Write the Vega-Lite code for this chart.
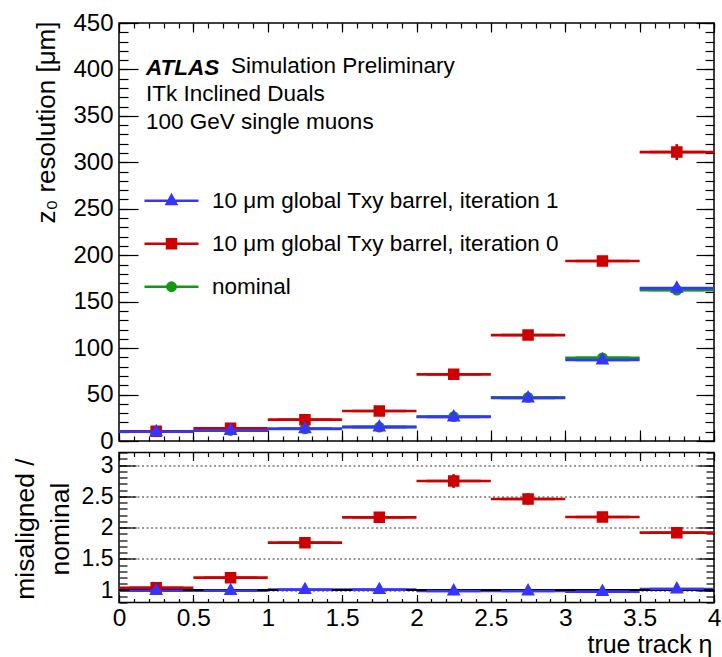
{
  "$schema": "https://vega.github.io/schema/vega-lite/v6.json",
  "background": "white",
  "padding": {"left": 11, "top": 10, "right": 1, "bottom": 0},
  "config": {
    "font": "Liberation Sans",
    "view": {"stroke": "black", "strokeWidth": 1.5},
    "axis": {"domain": false, "grid": false, "tickColor": "black", "tickWidth": 1.2, "labelColor": "black", "titleColor": "black", "titleFontWeight": "normal", "labelFont": "Liberation Sans", "titleFont": "Liberation Sans", "labelOverlap": false, "labelFlush": false, "labelBound": false},
    "legend": {"labelFont": "Liberation Sans"}
  },
  "datasets": {
    "res": [
      {"s": "nominal", "eta": 0.25, "lo": 0, "hi": 0.5, "val": 10.1, "elo": 9.9, "ehi": 10.3},
      {"s": "nominal", "eta": 0.75, "lo": 0.5, "hi": 1, "val": 11.3, "elo": 11.1, "ehi": 11.5},
      {"s": "nominal", "eta": 1.25, "lo": 1, "hi": 1.5, "val": 13.1, "elo": 12.8, "ehi": 13.4},
      {"s": "nominal", "eta": 1.75, "lo": 1.5, "hi": 2, "val": 15.0, "elo": 14.6, "ehi": 15.4},
      {"s": "nominal", "eta": 2.25, "lo": 2, "hi": 2.5, "val": 26.3, "elo": 25.7, "ehi": 26.9},
      {"s": "nominal", "eta": 2.75, "lo": 2.5, "hi": 3, "val": 47.0, "elo": 46.0, "ehi": 48.0},
      {"s": "nominal", "eta": 3.25, "lo": 3, "hi": 3.5, "val": 89.5, "elo": 87.8, "ehi": 91.2},
      {"s": "nominal", "eta": 3.75, "lo": 3.5, "hi": 4, "val": 162.5, "elo": 159.5, "ehi": 165.5},
      {"s": "10 μm global Txy barrel, iteration 0", "eta": 0.25, "lo": 0, "hi": 0.5, "val": 10.4, "elo": 10.1, "ehi": 10.7},
      {"s": "10 μm global Txy barrel, iteration 0", "eta": 0.75, "lo": 0.5, "hi": 1, "val": 13.6, "elo": 13.2, "ehi": 14.0},
      {"s": "10 μm global Txy barrel, iteration 0", "eta": 1.25, "lo": 1, "hi": 1.5, "val": 23.0, "elo": 22.4, "ehi": 23.6},
      {"s": "10 μm global Txy barrel, iteration 0", "eta": 1.75, "lo": 1.5, "hi": 2, "val": 32.3, "elo": 31.5, "ehi": 33.1},
      {"s": "10 μm global Txy barrel, iteration 0", "eta": 2.25, "lo": 2, "hi": 2.5, "val": 71.8, "elo": 70.0, "ehi": 73.6},
      {"s": "10 μm global Txy barrel, iteration 0", "eta": 2.75, "lo": 2.5, "hi": 3, "val": 114.0, "elo": 111.2, "ehi": 116.8},
      {"s": "10 μm global Txy barrel, iteration 0", "eta": 3.25, "lo": 3, "hi": 3.5, "val": 193.8, "elo": 189.3, "ehi": 198.3},
      {"s": "10 μm global Txy barrel, iteration 0", "eta": 3.75, "lo": 3.5, "hi": 4, "val": 311.0, "elo": 302.4, "ehi": 319.6},
      {"s": "10 μm global Txy barrel, iteration 1", "eta": 0.25, "lo": 0, "hi": 0.5, "val": 10.0, "elo": 9.8, "ehi": 10.2},
      {"s": "10 μm global Txy barrel, iteration 1", "eta": 0.75, "lo": 0.5, "hi": 1, "val": 11.2, "elo": 11.0, "ehi": 11.4},
      {"s": "10 μm global Txy barrel, iteration 1", "eta": 1.25, "lo": 1, "hi": 1.5, "val": 13.2, "elo": 12.9, "ehi": 13.5},
      {"s": "10 μm global Txy barrel, iteration 1", "eta": 1.75, "lo": 1.5, "hi": 2, "val": 15.1, "elo": 14.7, "ehi": 15.5},
      {"s": "10 μm global Txy barrel, iteration 1", "eta": 2.25, "lo": 2, "hi": 2.5, "val": 25.9, "elo": 25.3, "ehi": 26.5},
      {"s": "10 μm global Txy barrel, iteration 1", "eta": 2.75, "lo": 2.5, "hi": 3, "val": 46.3, "elo": 45.3, "ehi": 47.3},
      {"s": "10 μm global Txy barrel, iteration 1", "eta": 3.25, "lo": 3, "hi": 3.5, "val": 87.3, "elo": 85.6, "ehi": 89.0},
      {"s": "10 μm global Txy barrel, iteration 1", "eta": 3.75, "lo": 3.5, "hi": 4, "val": 164.5, "elo": 161.5, "ehi": 167.5}
    ],
    "ratio": [
      {"s": "10 μm global Txy barrel, iteration 0", "eta": 0.25, "lo": 0, "hi": 0.5, "val": 1.035, "elo": 1.005, "ehi": 1.065},
      {"s": "10 μm global Txy barrel, iteration 0", "eta": 0.75, "lo": 0.5, "hi": 1, "val": 1.197, "elo": 1.157, "ehi": 1.237},
      {"s": "10 μm global Txy barrel, iteration 0", "eta": 1.25, "lo": 1, "hi": 1.5, "val": 1.757, "elo": 1.697, "ehi": 1.817},
      {"s": "10 μm global Txy barrel, iteration 0", "eta": 1.75, "lo": 1.5, "hi": 2, "val": 2.163, "elo": 2.093, "ehi": 2.233},
      {"s": "10 μm global Txy barrel, iteration 0", "eta": 2.25, "lo": 2, "hi": 2.5, "val": 2.744, "elo": 2.634, "ehi": 2.854},
      {"s": "10 μm global Txy barrel, iteration 0", "eta": 2.75, "lo": 2.5, "hi": 3, "val": 2.456, "elo": 2.366, "ehi": 2.546},
      {"s": "10 μm global Txy barrel, iteration 0", "eta": 3.25, "lo": 3, "hi": 3.5, "val": 2.168, "elo": 2.098, "ehi": 2.238},
      {"s": "10 μm global Txy barrel, iteration 0", "eta": 3.75, "lo": 3.5, "hi": 4, "val": 1.917, "elo": 1.847, "ehi": 1.987},
      {"s": "10 μm global Txy barrel, iteration 1", "eta": 0.25, "lo": 0, "hi": 0.5, "val": 0.99, "elo": 0.97, "ehi": 1.01},
      {"s": "10 μm global Txy barrel, iteration 1", "eta": 0.75, "lo": 0.5, "hi": 1, "val": 0.99, "elo": 0.97, "ehi": 1.01},
      {"s": "10 μm global Txy barrel, iteration 1", "eta": 1.25, "lo": 1, "hi": 1.5, "val": 1.006, "elo": 0.986, "ehi": 1.026},
      {"s": "10 μm global Txy barrel, iteration 1", "eta": 1.75, "lo": 1.5, "hi": 2, "val": 1.006, "elo": 0.986, "ehi": 1.026},
      {"s": "10 μm global Txy barrel, iteration 1", "eta": 2.25, "lo": 2, "hi": 2.5, "val": 0.985, "elo": 0.965, "ehi": 1.005},
      {"s": "10 μm global Txy barrel, iteration 1", "eta": 2.75, "lo": 2.5, "hi": 3, "val": 0.985, "elo": 0.965, "ehi": 1.005},
      {"s": "10 μm global Txy barrel, iteration 1", "eta": 3.25, "lo": 3, "hi": 3.5, "val": 0.975, "elo": 0.955, "ehi": 0.995},
      {"s": "10 μm global Txy barrel, iteration 1", "eta": 3.75, "lo": 3.5, "hi": 4, "val": 1.015, "elo": 0.995, "ehi": 1.035}
    ]
  },
  "title": {
    "text": "ATLAS",
    "subtitle": ["ITk Inclined Duals", "100 GeV single muons"],
    "anchor": "start", "frame": "group", "orient": "top",
    "font": "Liberation Sans", "fontSize": 22.5, "fontStyle": "italic", "fontWeight": "bold", "color": "black",
    "subtitleFont": "Liberation Sans", "subtitleFontSize": 22.5, "subtitleColor": "black", "subtitleLineHeight": 27.6, "subtitlePadding": 4,
    "offset": -123, "dx": 27
  },
  "spacing": 11.5,
  "bounds": "flush",
  "resolve": {
    "scale": {"fill": "independent", "stroke": "independent", "shape": "independent"},
    "legend": {"fill": "independent", "stroke": "independent", "shape": "independent"}
  },
  "vconcat": [
    {
      "width": 595,
      "height": 418,
      "title": {"text": "Simulation Preliminary", "anchor": "start", "frame": "group", "orient": "top", "font": "Liberation Sans", "fontSize": 22.5, "fontWeight": "normal", "color": "black", "offset": -66, "dx": 112},
      "data": {"name": "res"},
      "resolve": {"axis": {"x": "independent", "y": "independent"}},
      "layer": [
        {
          "mark": {"type": "rule", "strokeWidth": 2.7},
          "encoding": {
            "x": {"field": "lo", "type": "quantitative", "scale": {"domain": [0, 4], "nice": false, "zero": false},
                  "axis": {"orient": "bottom", "values": [0, 0.5, 1, 1.5, 2, 2.5, 3, 3.5, 4], "labels": false, "tickSize": -11, "title": null}},
            "x2": {"field": "hi"},
            "y": {"field": "val", "type": "quantitative", "scale": {"domain": [0, 450], "nice": false, "zero": false},
                  "axis": {"orient": "left", "values": [0, 50, 100, 150, 200, 250, 300, 350, 400, 450], "tickSize": -19, "labelPadding": 25, "labelFontSize": 24,
                           "title": "z₀ resolution [μm]", "titleFontSize": 26, "titleAnchor": "end", "titleAlign": "right", "titleAngle": -90, "titleBaseline": "alphabetic", "titleX": -64.5, "titleY": -2}},
            "stroke": {"field": "s", "type": "nominal",
                       "scale": {"domain": ["10 μm global Txy barrel, iteration 1", "10 μm global Txy barrel, iteration 0", "nominal"], "range": ["#3535ff", "#cc0000", "#119911"]},
                       "legend": {"orient": "none", "legendX": 24, "legendY": 156.5, "title": null, "symbolSize": 2916, "symbolStrokeWidth": 2.5, "symbolOpacity": 1, "labelFontSize": 22.5, "labelColor": "black", "labelOffset": 12, "labelLimit": 600, "clipHeight": 42.5, "rowPadding": 0, "padding": 0}}
          }
        },
        {
          "mark": {"type": "rule", "strokeWidth": 2.7},
          "encoding": {
            "x": {"field": "eta", "type": "quantitative", "axis": null},
            "y": {"field": "elo", "type": "quantitative", "axis": null},
            "y2": {"field": "ehi"},
            "stroke": {"field": "s", "type": "nominal",
                       "legend": {"orient": "none", "legendX": 24, "legendY": 156.5, "title": null, "symbolSize": 2916, "symbolStrokeWidth": 2.5, "symbolOpacity": 1, "labelFontSize": 22.5, "labelColor": "black", "labelOffset": 12, "labelLimit": 600, "clipHeight": 42.5, "rowPadding": 0, "padding": 0}}
          }
        },
        {
          "mark": {"type": "point", "filled": true, "opacity": 1, "size": 2916, "strokeWidth": 2.5},
          "encoding": {
            "x": {"field": "eta", "type": "quantitative", "axis": null},
            "y": {"field": "val", "type": "quantitative", "axis": null},
            "fill": {"field": "s", "type": "nominal",
                     "scale": {"domain": ["10 μm global Txy barrel, iteration 1", "10 μm global Txy barrel, iteration 0", "nominal"], "range": ["#3535ff", "#cc0000", "#119911"]},
                     "legend": {"orient": "none", "legendX": 24, "legendY": 156.5, "title": null, "symbolSize": 2916, "symbolStrokeWidth": 2.5, "symbolOpacity": 1, "labelFontSize": 22.5, "labelColor": "black", "labelOffset": 12, "labelLimit": 600, "clipHeight": 42.5, "rowPadding": 0, "padding": 0}},
            "stroke": {"field": "s", "type": "nominal",
                       "legend": {"orient": "none", "legendX": 24, "legendY": 156.5, "title": null, "symbolSize": 2916, "symbolStrokeWidth": 2.5, "symbolOpacity": 1, "labelFontSize": 22.5, "labelColor": "black", "labelOffset": 12, "labelLimit": 600, "clipHeight": 42.5, "rowPadding": 0, "padding": 0}},
            "shape": {"field": "s", "type": "nominal",
                      "scale": {"domain": ["10 μm global Txy barrel, iteration 1", "10 μm global Txy barrel, iteration 0", "nominal"],
                                "range": ["M-1,0H1M0,-0.2L0.176,0.12L-0.176,0.12Z", "M-1,0H1M-0.167,-0.167H0.167V0.167H-0.167Z", "M-1,0H1M-0.155,0A0.155,0.155,0,1,0,0.155,0A0.155,0.155,0,1,0,-0.155,0Z"]},
                      "legend": {"orient": "none", "legendX": 24, "legendY": 156.5, "title": null, "symbolSize": 2916, "symbolStrokeWidth": 2.5, "symbolOpacity": 1, "labelFontSize": 22.5, "labelColor": "black", "labelOffset": 12, "labelLimit": 600, "clipHeight": 42.5, "rowPadding": 0, "padding": 0}}
          }
        },
        {
          "mark": {"type": "point", "opacity": 0, "size": 1},
          "encoding": {
            "x": {"field": "lo", "type": "quantitative", "axis": {"orient": "top", "values": [0, 0.5, 1, 1.5, 2, 2.5, 3, 3.5, 4], "labels": false, "tickSize": -9, "title": null}},
            "y": {"field": "val", "type": "quantitative", "axis": {"orient": "right", "values": [0, 50, 100, 150, 200, 250, 300, 350, 400, 450], "labels": false, "tickSize": -18, "title": null}}
          }
        },
        {
          "mark": {"type": "point", "opacity": 0, "size": 1},
          "encoding": {
            "x": {"field": "lo", "type": "quantitative", "axis": {"orient": "bottom", "values": [0,0.1,0.2,0.3,0.4,0.5,0.6,0.7,0.8,0.9,1,1.1,1.2,1.3,1.4,1.5,1.6,1.7,1.8,1.9,2,2.1,2.2,2.3,2.4,2.5,2.6,2.7,2.8,2.9,3,3.1,3.2,3.3,3.4,3.5,3.6,3.7,3.8,3.9,4], "labels": false, "tickSize": -5, "title": null}},
            "y": {"field": "val", "type": "quantitative", "axis": {"orient": "left", "values": [0,10,20,30,40,50,60,70,80,90,100,110,120,130,140,150,160,170,180,190,200,210,220,230,240,250,260,270,280,290,300,310,320,330,340,350,360,370,380,390,400,410,420,430,440,450], "labels": false, "tickSize": -9, "title": null}}
          }
        },
        {
          "mark": {"type": "point", "opacity": 0, "size": 1},
          "encoding": {
            "x": {"field": "lo", "type": "quantitative", "axis": {"orient": "top", "values": [0,0.1,0.2,0.3,0.4,0.5,0.6,0.7,0.8,0.9,1,1.1,1.2,1.3,1.4,1.5,1.6,1.7,1.8,1.9,2,2.1,2.2,2.3,2.4,2.5,2.6,2.7,2.8,2.9,3,3.1,3.2,3.3,3.4,3.5,3.6,3.7,3.8,3.9,4], "labels": false, "tickSize": -5, "title": null}},
            "y": {"field": "val", "type": "quantitative", "axis": {"orient": "right", "values": [0,10,20,30,40,50,60,70,80,90,100,110,120,130,140,150,160,170,180,190,200,210,220,230,240,250,260,270,280,290,300,310,320,330,340,350,360,370,380,390,400,410,420,430,440,450], "labels": false, "tickSize": -9, "title": null}}
          }
        }
      ]
    },
    {
      "width": 595,
      "height": 150,
      "data": {"name": "ratio"},
      "resolve": {"axis": {"x": "independent", "y": "independent"}},
      "layer": [
        {
          "mark": {"type": "rule", "strokeWidth": 2.7},
          "encoding": {
            "x": {"field": "lo", "type": "quantitative", "scale": {"domain": [0, 4], "nice": false, "zero": false},
                  "axis": {"orient": "bottom", "values": [0, 0.5, 1, 1.5, 2, 2.5, 3, 3.5, 4], "format": "~g", "tickSize": -8, "labelPadding": 11.5, "labelFontSize": 24.5,
                           "title": "true track η", "titleFontSize": 25, "titleAnchor": "end", "titleAlign": "right", "titleBaseline": "alphabetic", "titleX": 593, "titleY": 50}},
            "x2": {"field": "hi"},
            "y": {"field": "val", "type": "quantitative", "scale": {"domain": [0.8, 3.2], "nice": false, "zero": false},
                  "axis": {"orient": "left", "values": [1, 1.5, 2, 2.5, 3], "format": "~g", "tickSize": -17, "labelPadding": 23, "labelFontSize": 23,
                           "grid": true, "gridDash": [2, 2.5], "gridColor": "#333333", "gridWidth": 1, "gridOpacity": 1,
                           "title": ["misaligned /", "nominal"], "titleFontSize": 26.5, "titleLineHeight": 35, "titleAngle": -90, "titleAlign": "center", "titleBaseline": "alphabetic", "titleX": -86, "titleY": 76}},
            "stroke": {"field": "s", "type": "nominal",
                       "scale": {"domain": ["10 μm global Txy barrel, iteration 1", "10 μm global Txy barrel, iteration 0", "nominal"], "range": ["#3535ff", "#cc0000", "#119911"]},
                       "legend": null}
          }
        },
        {
          "mark": {"type": "rule", "strokeWidth": 2.7},
          "encoding": {
            "x": {"field": "eta", "type": "quantitative", "axis": null},
            "y": {"field": "elo", "type": "quantitative", "axis": null},
            "y2": {"field": "ehi"},
            "stroke": {"field": "s", "type": "nominal", "legend": null}
          }
        },
        {
          "mark": {"type": "rule", "color": "black", "strokeWidth": 2},
          "encoding": {
            "y": {"datum": 1, "type": "quantitative", "axis": null}
          }
        },
        {
          "mark": {"type": "point", "filled": true, "opacity": 1, "size": 2916, "strokeWidth": 2.5},
          "encoding": {
            "x": {"field": "eta", "type": "quantitative", "axis": null},
            "y": {"field": "val", "type": "quantitative", "axis": null},
            "fill": {"field": "s", "type": "nominal",
                     "scale": {"domain": ["10 μm global Txy barrel, iteration 1", "10 μm global Txy barrel, iteration 0", "nominal"], "range": ["#3535ff", "#cc0000", "#119911"]},
                     "legend": null},
            "stroke": {"field": "s", "type": "nominal", "legend": null},
            "shape": {"field": "s", "type": "nominal",
                      "scale": {"domain": ["10 μm global Txy barrel, iteration 1", "10 μm global Txy barrel, iteration 0", "nominal"],
                                "range": ["M-1,0H1M0,-0.2L0.176,0.12L-0.176,0.12Z", "M-1,0H1M-0.167,-0.167H0.167V0.167H-0.167Z", "M-1,0H1M-0.155,0A0.155,0.155,0,1,0,0.155,0A0.155,0.155,0,1,0,-0.155,0Z"]},
                      "legend": null}
          }
        },
        {
          "mark": {"type": "point", "opacity": 0, "size": 1},
          "encoding": {
            "x": {"field": "lo", "type": "quantitative", "axis": {"orient": "top", "values": [0, 0.5, 1, 1.5, 2, 2.5, 3, 3.5, 4], "labels": false, "tickSize": -8, "title": null}},
            "y": {"field": "val", "type": "quantitative", "axis": {"orient": "right", "values": [1, 1.5, 2, 2.5, 3], "labels": false, "tickSize": -17, "title": null}}
          }
        },
        {
          "mark": {"type": "point", "opacity": 0, "size": 1},
          "encoding": {
            "x": {"field": "lo", "type": "quantitative", "axis": {"orient": "bottom", "values": [0,0.1,0.2,0.3,0.4,0.5,0.6,0.7,0.8,0.9,1,1.1,1.2,1.3,1.4,1.5,1.6,1.7,1.8,1.9,2,2.1,2.2,2.3,2.4,2.5,2.6,2.7,2.8,2.9,3,3.1,3.2,3.3,3.4,3.5,3.6,3.7,3.8,3.9,4], "labels": false, "tickSize": -4, "title": null}},
            "y": {"field": "val", "type": "quantitative", "axis": {"orient": "left", "values": [0.8,0.9,1,1.1,1.2,1.3,1.4,1.5,1.6,1.7,1.8,1.9,2,2.1,2.2,2.3,2.4,2.5,2.6,2.7,2.8,2.9,3,3.1,3.2], "labels": false, "tickSize": -8, "title": null}}
          }
        },
        {
          "mark": {"type": "point", "opacity": 0, "size": 1},
          "encoding": {
            "x": {"field": "lo", "type": "quantitative", "axis": {"orient": "top", "values": [0,0.1,0.2,0.3,0.4,0.5,0.6,0.7,0.8,0.9,1,1.1,1.2,1.3,1.4,1.5,1.6,1.7,1.8,1.9,2,2.1,2.2,2.3,2.4,2.5,2.6,2.7,2.8,2.9,3,3.1,3.2,3.3,3.4,3.5,3.6,3.7,3.8,3.9,4], "labels": false, "tickSize": -4, "title": null}},
            "y": {"field": "val", "type": "quantitative", "axis": {"orient": "right", "values": [0.8,0.9,1,1.1,1.2,1.3,1.4,1.5,1.6,1.7,1.8,1.9,2,2.1,2.2,2.3,2.4,2.5,2.6,2.7,2.8,2.9,3,3.1,3.2], "labels": false, "tickSize": -8, "title": null}}
          }
        }
      ]
    }
  ]
}
